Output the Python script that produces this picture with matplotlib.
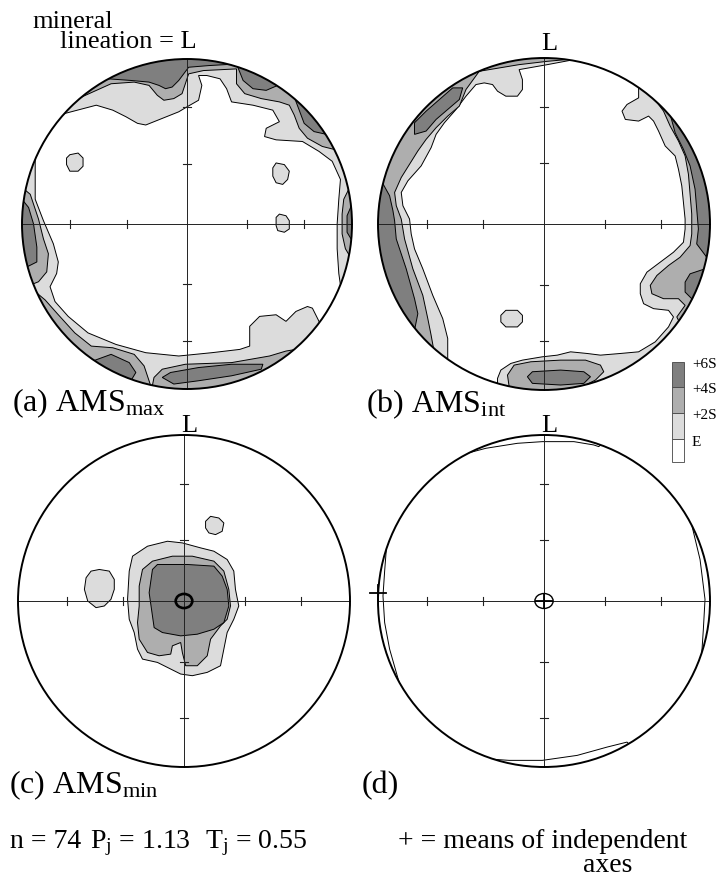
import numpy as np
import matplotlib
matplotlib.use("Agg")
import matplotlib.pyplot as plt
from matplotlib.patches import Polygon, Circle, Ellipse, Rectangle

plt.rcParams['font.family'] = ['Liberation Serif', 'DejaVu Serif']
plt.rcParams['mathtext.fontset'] = 'custom'
plt.rcParams['mathtext.rm'] = 'Liberation Serif'
plt.rcParams['mathtext.it'] = 'Liberation Serif:italic'

W, H = 718, 878

# contour levels (legend) and shading of the bands E-2S, 2S-4S, 4S-6S
levels = ['E', '+2S', '+4S', '+6S']
shades = ['#dcdcdc', '#aeaeae', '#7f7f7f']

n_samples = 74
pj = 1.13
tj = 0.55

# net ticks: 30 and 60 degrees from the centre (equal-area)
tick_deg = [30, 60]

# digitised contours, % of net radius (east, north)
# flag +1 / -1: contour ends on the primitive, closed along it anticlockwise / clockwise
# flag 0: closed contour inside the net

# (a) AMS max
a_e_top = [(-80, 63), (-74, 67), (-55, 72), (-45, 69), (-37, 65), (-30, 61), (-25, 60),
           (-15, 64), (-5, 68), (0, 71), (7, 75), (9, 84), (7, 90), (12, 90), (20, 88),
           (24, 82), (27, 74), (40, 72), (52, 69), (56, 62), (48, 58), (47, 53), (54, 51),
           (70, 50), (80, 44), (88, 38), (93, 27), (92, 15), (91, 0), (91, -15), (92, -30),
           (93, -37)]
a_e_left = [(-92, 42), (-92, 30), (-92, 15), (-87, 2), (-81, -12), (-78, -23), (-79, -30),
            (-83, -38), (-80, -47), (-72, -56), (-60, -66), (-43, -73), (-25, -78), (-5, -80),
            (15, -78), (32, -76), (38, -74), (38, -62), (44, -56), (54, -55), (60, -59),
            (66, -53), (73, -50), (76, -51), (81, -61)]
a_e_isl1 = [(-71, 42), (-66, 43), (-63, 40), (-63, 35), (-66, 32), (-71, 32), (-73, 36), (-73, 40)]
a_e_isl2 = [(54, 37), (59, 36), (62, 32), (61, 27), (58, 24), (54, 25), (52, 29), (52, 34)]
a_e_isl3 = [(56, 6), (60, 5), (62, 2), (62, -3), (59, -5), (55, -4), (54, -1), (54, 4)]
a_2s_top = [(-66, 76), (-46, 85), (-32, 86), (-23, 84), (-18, 78), (-14, 75), (-8, 76), (-3, 79),
            (-1, 85), (1, 91), (10, 93), (30, 94), (30, 85), (35, 79), (45, 76), (56, 74),
            (62, 72), (65, 66), (68, 58), (73, 52), (82, 47), (90, 45)]
a_2s_e = [(99, 23), (95, 15), (94, 6), (94, -6), (96, -15), (99, -20)]
a_2s_w = [(-101, 23), (-95, 18), (-90, 3), (-87, -9), (-84, -18), (-85, -29), (-90, -35), (-95, -37)]
a_2s_sw = [(-92, -41), (-86, -46), (-78, -55), (-68, -66), (-58, -74), (-45, -75), (-32, -79),
           (-26, -86), (-22, -98)]
a_2s_s = [(-21, -98), (-20, -93), (-15, -88), (-1, -85), (27, -84), (50, -80), (60, -77),
          (66, -76), (71, -72)]
a_4s_top = [(-48, 88), (-34, 87), (-23, 86), (-17, 84), (-13, 82), (-9, 83), (-5, 87), (-2, 91),
            (1, 95), (13, 96), (30, 97), (34, 87), (40, 82), (48, 81), (55, 84)]
a_4s_ne = [(65, 77), (68, 69), (71, 61), (77, 56), (86, 54)]
a_4s_e = [(100, 12), (97, 5), (97, -5), (100, -10)]
a_4s_w = [(-100, 15), (-96, 10), (-93, 0), (-91, -14), (-91, -23), (-97, -26)]
a_4s_sw = [(-57, -83), (-46, -79), (-35, -84), (-31, -90), (-34, -95)]
a_4s_s = [(-15, -93), (-10, -90), (7, -87), (27, -85), (46, -85), (45, -88), (27, -92),
          (7, -95), (-8, -97)]

# (b) AMS int
b_e_w = [(18, 99), (2, 96), (-15, 93), (-13, 87), (-13, 81), (-16, 77), (-23, 77), (-28, 80),
         (-31, 84), (-36, 85), (-41, 84), (-47, 77), (-53, 69), (-60, 61), (-65, 54), (-68, 46),
         (-74, 35), (-82, 26), (-86, 19), (-85, 11), (-81, 3), (-80, -6), (-78, -15), (-73, -27),
         (-67, -43), (-61, -57), (-58, -69), (-58, -83)]
b_e_e = [(57, 83), (57, 76), (50, 72), (47, 68), (49, 63), (57, 62), (63, 65), (66, 62), (69, 56),
         (73, 47), (79, 41), (81, 33), (83, 23), (84, 13), (85, 3), (85, -3), (84, -11), (78, -17),
         (70, -23), (62, -29), (58, -36), (58, -42), (60, -48), (66, -51), (75, -52), (78, -56),
         (75, -62), (67, -71), (57, -77), (46, -78), (34, -79), (26, -78), (16, -77), (8, -79),
         (-1, -80), (-13, -82), (-20, -84), (-26, -88), (-28, -93), (-28, -97)]
b_e_isl = [(-23, -52), (-16, -52), (-13, -55), (-13, -59), (-16, -62), (-23, -62), (-26, -59), (-26, -55)]
b_2s_w = [(13, 99), (2, 98), (-15, 96), (-27, 94), (-39, 92), (-47, 81), (-51, 71), (-58, 65),
          (-65, 58), (-71, 51), (-76, 44), (-81, 36), (-86, 28), (-90, 19), (-89, 11), (-86, 3),
          (-84, -9), (-79, -27), (-73, -43), (-70, -57), (-68, -67), (-66, -78)]
b_2s_e = [(66, 76), (72, 68), (76, 59), (81, 50), (85, 41), (87, 30), (88, 18), (89, 6), (89, -6),
          (88, -13), (82, -20), (75, -25), (68, -31), (64, -37), (65, -42), (72, -45), (81, -45),
          (85, -49), (80, -56), (82, -60)]
b_2s_s = [(-21, -98), (-22, -91), (-18, -85), (-8, -83), (10, -82), (25, -82), (34, -85),
          (36, -89), (31, -94), (25, -97)]
b_4s_nw = [(-49, 82), (-55, 82), (-63, 75), (-71, 68), (-78, 61), (-78, 54), (-71, 56), (-65, 63),
           (-58, 69), (-51, 75)]
b_4s_w = [(-98, 26), (-93, 17), (-91, 8), (-90, 2), (-89, -9), (-83, -27), (-78, -45), (-76, -54),
          (-78, -64)]
b_4s_e = [(76, 66), (79, 55), (84, 45), (88, 35), (91, 21), (92, 9), (93, -3), (92, -12), (98, -20)]
b_4s_se = [(97, -27), (88, -30), (85, -35), (85, -41), (90, -46)]
b_4s_s = [(-10, -92), (-7, -89), (10, -88), (24, -89), (28, -92), (24, -96), (10, -97), (-7, -96)]

# (c) AMS min
c_e = [(-31, 27), (-22, 33), (-10, 36), (-1, 35), (10, 32), (18, 30), (26, 25), (30, 18), (31, 7),
       (33, -3), (30, -11), (26, -19), (24, -29), (22, -39), (14, -43), (5, -45), (-2, -44),
       (-8, -41), (-16, -37), (-25, -35), (-28, -29), (-30, -19), (-33, -11), (-34, 1), (-33, 18)]
c_e_isl1 = [(-51, 19), (-45, 18), (-42, 13), (-42, 7), (-44, 1), (-48, -3), (-53, -4), (-58, 0),
            (-60, 7), (-59, 14), (-56, 18)]
c_e_isl2 = [(16, 51), (21, 50), (24, 47), (23, 42), (19, 40), (15, 41), (13, 44), (13, 48)]
c_2s = [(-25, 19), (-19, 24), (-7, 27), (5, 27), (18, 24), (24, 18), (27, 7), (28, -3), (26, -11),
        (22, -15), (16, -23), (14, -33), (8, -39), (1, -39), (-1, -31), (-2, -25), (-7, -27),
        (-8, -32), (-15, -33), (-22, -31), (-27, -23), (-28, -13), (-27, -3), (-27, 9)]
c_4s = [(-19, 19), (-16, 22), (2, 22), (18, 21), (23, 15), (26, 7), (27, -3), (24, -13), (18, -17),
        (8, -20), (-2, -21), (-13, -19), (-18, -16), (-19, -9), (-21, 5)]
c_conf = (0, 0, 10, 8.5)  # confidence ellipse of the min axis: centre, width, height

# (d) mean axes and their confidence regions
d_conf_w = [(-95, 31), (-96, 18), (-97, 3), (-96, -13), (-93, -29), (-89, -43), (-87, -50)]
d_conf_e = [(88, 50), (94, 25), (97, 1), (96, -17), (95, -32)]
d_conf_n = [(-50, 88), (-35, 92), (-16, 95), (-1, 96), (18, 96), (30, 94), (33, 93), (35, 95)]
d_conf_s = [(-36, -95), (-21, -96), (-1, -96), (20, -93), (38, -88), (50, -85), (52, -87)]
d_means = [(-100, 5), (0, 0)]
d_conf_min = (0, 0, 11, 9)

panel_a = [(0, a_e_top, 1), (0, a_e_left, -1), (0, a_e_isl1, 0), (0, a_e_isl2, 0), (0, a_e_isl3, 0),
           (1, a_2s_top, 1), (1, a_2s_e, 1), (1, a_2s_w, -1), (1, a_2s_sw, -1), (1, a_2s_s, -1),
           (2, a_4s_top, 1), (2, a_4s_ne, 1), (2, a_4s_e, 1), (2, a_4s_w, -1), (2, a_4s_sw, -1),
           (2, a_4s_s, 0)]
panel_b = [(0, b_e_w, -1), (0, b_e_e, 1), (0, b_e_isl, 0),
           (1, b_2s_w, -1), (1, b_2s_e, 1), (1, b_2s_s, -1),
           (2, b_4s_nw, 0), (2, b_4s_w, -1), (2, b_4s_e, 1), (2, b_4s_se, 1), (2, b_4s_s, 0)]
panel_c = [(0, c_e, 0), (0, c_e_isl1, 0), (0, c_e_isl2, 0), (1, c_2s, 0), (2, c_4s, 0)]
panel_d = [(None, d_conf_w, -1), (None, d_conf_e, 1), (None, d_conf_n, 1), (None, d_conf_s, -1)]


def close_on_rim(pts, flag):
    p = np.asarray(pts, float) / 100.0
    if flag == 0:
        return p
    a0 = np.arctan2(p[-1, 1], p[-1, 0])
    a1 = np.arctan2(p[0, 1], p[0, 0])
    if flag > 0:
        while a1 <= a0:
            a1 += 2 * np.pi
    else:
        while a1 >= a0:
            a1 -= 2 * np.pi
    t = np.linspace(a0, a1, 80)
    return np.vstack([p, 1.3 * np.column_stack([np.cos(t), np.sin(t)])])


fig = plt.figure(figsize=(W / 100, H / 100), dpi=100)


def net_axes(cx, cy, r):
    s = 1.12
    ax = fig.add_axes([(cx - s * r) / W, (H - cy - s * r) / H, 2 * s * r / W, 2 * s * r / H])
    ax.set_xlim(-s, s)
    ax.set_ylim(-s, s)
    ax.axis('off')
    ax.patch.set_visible(False)
    return ax


def draw_net(ax, regions):
    clip = Circle((0, 0), 1, transform=ax.transData)
    for lev, pts, flag in regions:
        fc = 'none' if lev is None else shades[lev]
        z = 1 if lev is None else 1 + lev
        poly = Polygon(close_on_rim(pts, flag), closed=True, facecolor=fc,
                       edgecolor='black', lw=0.7, zorder=z)
        ax.add_patch(poly)
        poly.set_clip_path(clip)
    ax.plot([-1, 1], [0, 0], color='#222222', lw=0.7, zorder=5)
    ax.plot([0, 0], [-1, 1], color='#222222', lw=0.7, zorder=5)
    tl = 0.022
    for d in tick_deg:
        rt = np.sqrt(2) * np.sin(np.radians(d) / 2)
        for sg in (-1, 1):
            ax.plot([sg * rt, sg * rt], [-tl, tl], color='#222222', lw=0.8, zorder=5)
            ax.plot([-tl, tl], [sg * rt, sg * rt], color='#222222', lw=0.8, zorder=5)
    ax.add_patch(Circle((0, 0), 1, fill=False, ec='black', lw=1.4, zorder=6))


ax_a = net_axes(187, 225, 165)
draw_net(ax_a, panel_a)
ax_b = net_axes(544, 225, 166)
draw_net(ax_b, panel_b)
ax_c = net_axes(184, 602, 166)
draw_net(ax_c, panel_c)
ax_c.add_patch(Ellipse((c_conf[0] / 100, c_conf[1] / 100), c_conf[2] / 100, c_conf[3] / 100,
                       fill=False, ec='black', lw=1.9, zorder=7))
ax_d = net_axes(544, 602, 166)
draw_net(ax_d, panel_d)
ax_d.add_patch(Ellipse((d_conf_min[0] / 100, d_conf_min[1] / 100), d_conf_min[2] / 100,
                       d_conf_min[3] / 100, fill=False, ec='black', lw=1.0, zorder=7))
for mx, my in d_means:
    mx, my = mx / 100, my / 100
    ax_d.plot([mx - 0.05, mx + 0.05], [my, my], color='black', lw=1.3, zorder=8, clip_on=False)
    ax_d.plot([mx, mx], [my - 0.045, my + 0.045], color='black', lw=1.3, zorder=8, clip_on=False)


def ftext(x, y, s, size, **kw):
    fig.text(x / W, 1 - y / H, s, fontsize=size, va=kw.pop('va', 'baseline'), **kw)


ftext(32, 28, 'mineral', 19)
ftext(60, 48, 'lineation = L', 19)
ftext(541, 50, 'L', 19)
ftext(181, 432, 'L', 19)
ftext(541, 432, 'L', 19)
ftext(12, 411, r'(a) AMS$_{\mathrm{max}}$', 23)
ftext(366, 412, r'(b) AMS$_{\mathrm{int}}$', 23)
ftext(9, 793, r'(c) AMS$_{\mathrm{min}}$', 23)
ftext(362, 793, '(d)', 23)
ftext(10, 848, 'n = %d' % n_samples, 20)
ftext(90, 848, r'P$_{\mathrm{j}}$ = %.2f' % pj, 20)
ftext(205, 848, r'T$_{\mathrm{j}}$ = %.2f' % tj, 20)
ftext(398, 848, '+ = means of independent', 20)
ftext(583, 872, 'axes', 20)

# legend bar
bar_x, bar_w = 672, 12
bar_edges = [363, 388, 414, 440, 463]
bar_cols = [shades[2], shades[1], shades[0], 'white']
for i, col in enumerate(bar_cols):
    y0, y1 = bar_edges[i], bar_edges[i + 1]
    fig.add_artist(Rectangle((bar_x / W, 1 - y1 / H), bar_w / W, (y1 - y0) / H,
                             transform=fig.transFigure, facecolor=col,
                             edgecolor='#444444', lw=0.6))
for lab, y in zip(levels[::-1], bar_edges[:4]):
    ftext(692, y + 2, lab, 11, va='center')

fig.savefig('out.png', dpi=100)
